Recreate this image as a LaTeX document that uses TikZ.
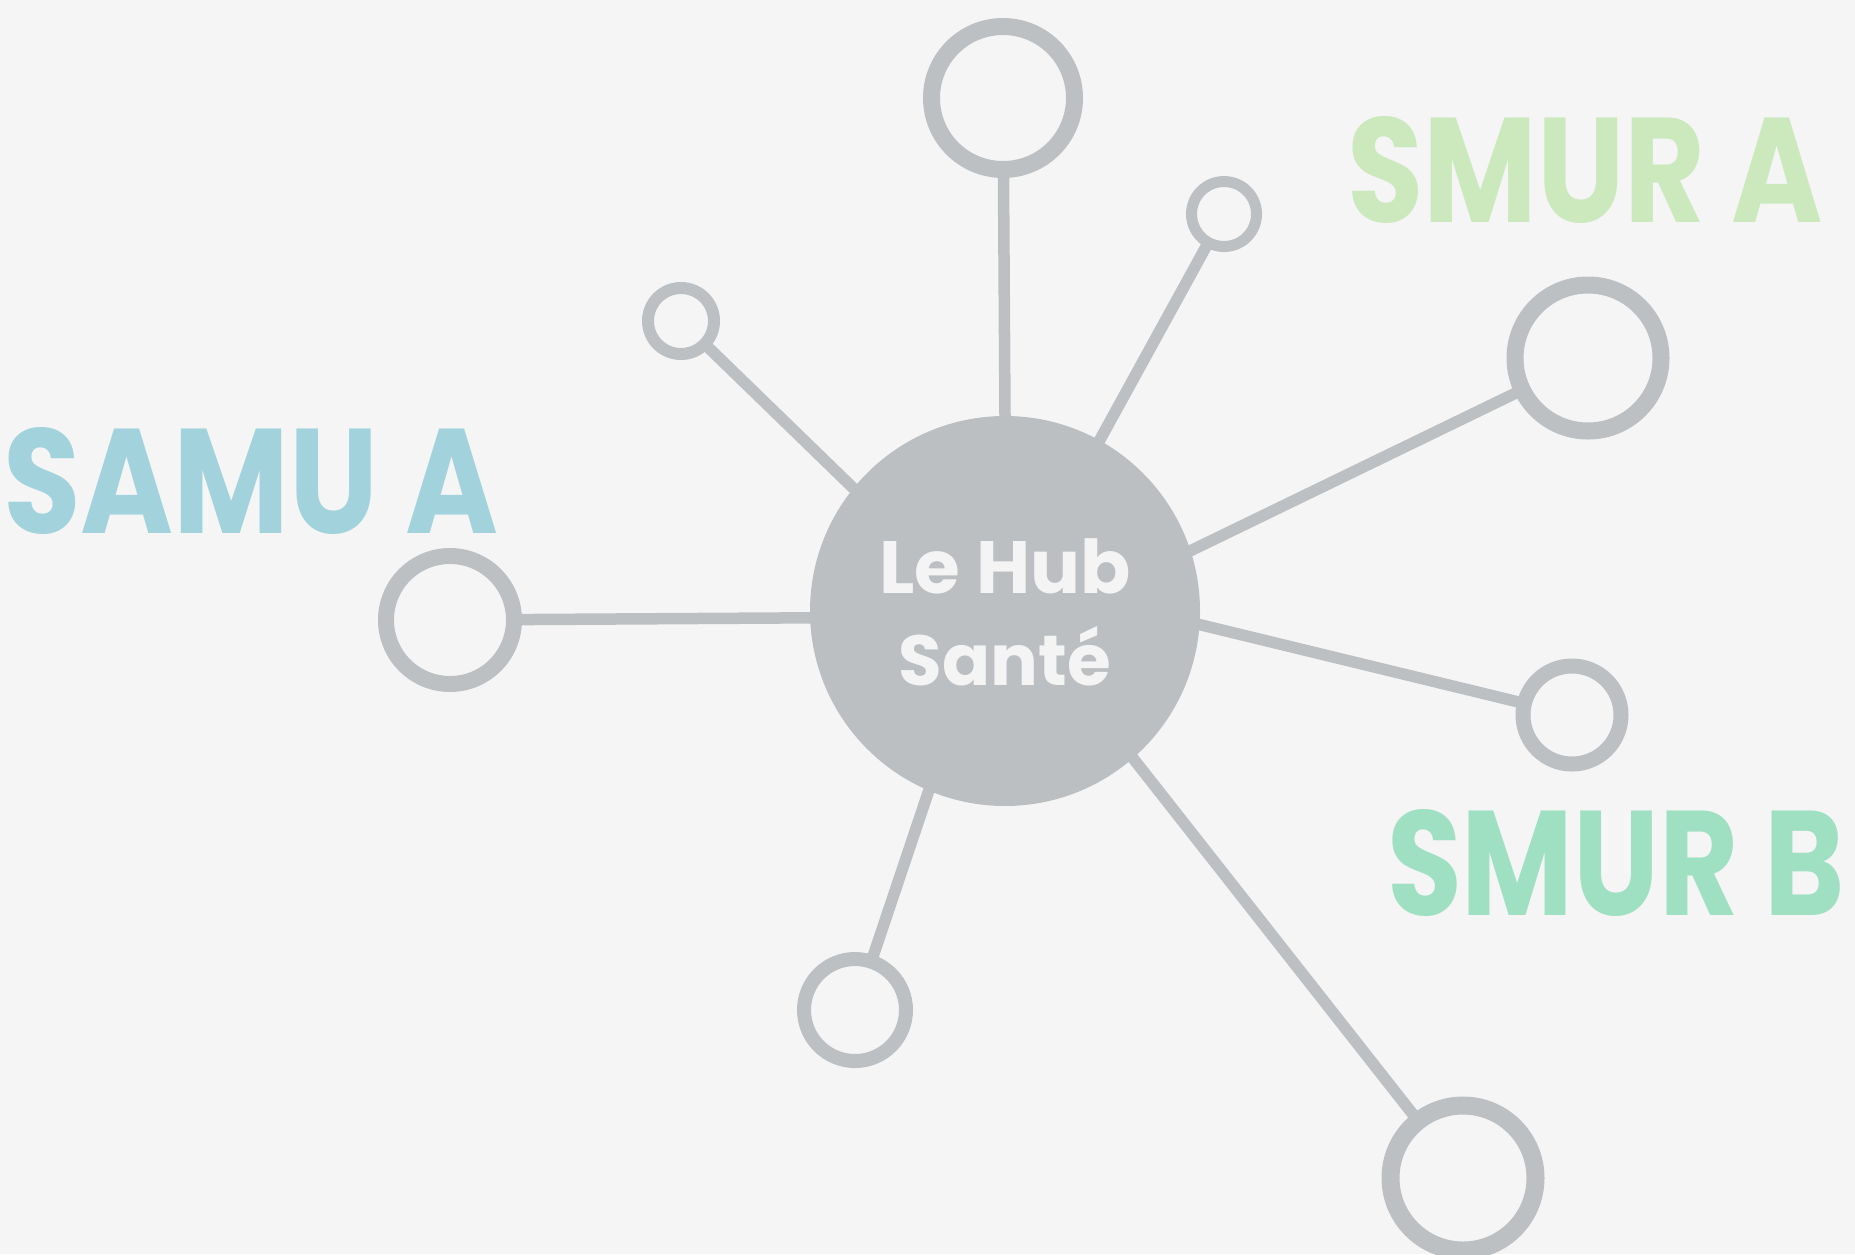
\documentclass[tikz,border=0pt]{standalone}
\usepackage{fontspec}
\setmainfont{Poppins}
\usetikzlibrary{backgrounds}
\definecolor{bgc}{HTML}{F5F5F5}
\definecolor{ringc}{HTML}{BCC0C3}
\definecolor{hubc}{HTML}{BBBFC2}
\definecolor{samuc}{HTML}{A2D3DC}
\definecolor{smurac}{HTML}{CBE9BD}
\definecolor{smurbc}{HTML}{9FE0C3}
\definecolor{hubtxt}{HTML}{F4F4F4}
\pgfdeclarelayer{bg}
\pgfdeclarelayer{lines}
\pgfsetlayers{bg,lines,main}
\tikzset{
  ring/.style={circle, draw=ringc, inner sep=0pt, outer sep=0pt},
  conn/.style={draw=ringc, line width=11.5pt, shorten >=-14pt},
  label/.style={inner sep=0pt, outer sep=0pt, anchor=south west},
}
\begin{document}
\begin{tikzpicture}[x=1pt,y=-1pt]
\begin{pgfonlayer}{bg}
\fill[bgc] (0,0) rectangle (1855,1254);
\end{pgfonlayer}
\useasboundingbox (0,0) rectangle (1855,1254);
% hub
\node[circle, fill=hubc, inner sep=0pt, minimum size=390pt] (hub) at (1005,611) {};
\node[inner sep=0pt, anchor=base] (hubl1) at (1005,593) {\resizebox{251pt}{!}{\color{hubtxt}\bfseries Le Hub}};
\node[inner sep=0pt, anchor=base] (hubl2) at (1005,685) {\resizebox{212pt}{!}{\color{hubtxt}\bfseries Santé}};
% rings
\node[ring, line width=17pt, minimum size=143pt] (t)  at (1003,98) {};
\node[ring, line width=11pt, minimum size=65pt]  (ur) at (1224,214) {};
\node[ring, line width=12pt, minimum size=66pt]  (ul) at (681,321) {};
\node[ring, line width=17pt, minimum size=146pt] (rb) at (1588,358) {};
\node[ring, line width=15pt, minimum size=98pt]  (rm) at (1572,715) {};
\node[ring, line width=18pt, minimum size=145pt] (br) at (1463,1178) {};
\node[ring, line width=14pt, minimum size=102pt] (b)  at (855,1010) {};
\node[ring, line width=16pt, minimum size=128pt] (l)  at (450,620) {};
% connectors
\begin{pgfonlayer}{lines}
\draw[conn] (t)  -- (hub.90);
\draw[conn] (ur) -- (hub.61.7);
\draw[conn] (rb) -- (hub.18.8);
\draw[conn] (rm) -- (hub.-4.9);
\draw[conn] (br) -- (hub.-49.4);
\draw[conn] (b)  -- (hub.-113.6);
\draw[conn] (l)  -- (hub.182.8);
\draw[conn] (ul) -- (hub.141.1);
\end{pgfonlayer}
% labels
\node[label] (samua) at (3,535) {\resizebox{495pt}{106pt}{\color{samuc}\bfseries SAMU A}};
\node[label] (smura) at (1347,224) {\resizebox{476pt}{106pt}{\color{smurac}\bfseries SMUR A}};
\node[label] (smurb) at (1387,917) {\resizebox{458pt}{106pt}{\color{smurbc}\bfseries SMUR B}};
\end{tikzpicture}
\end{document}
